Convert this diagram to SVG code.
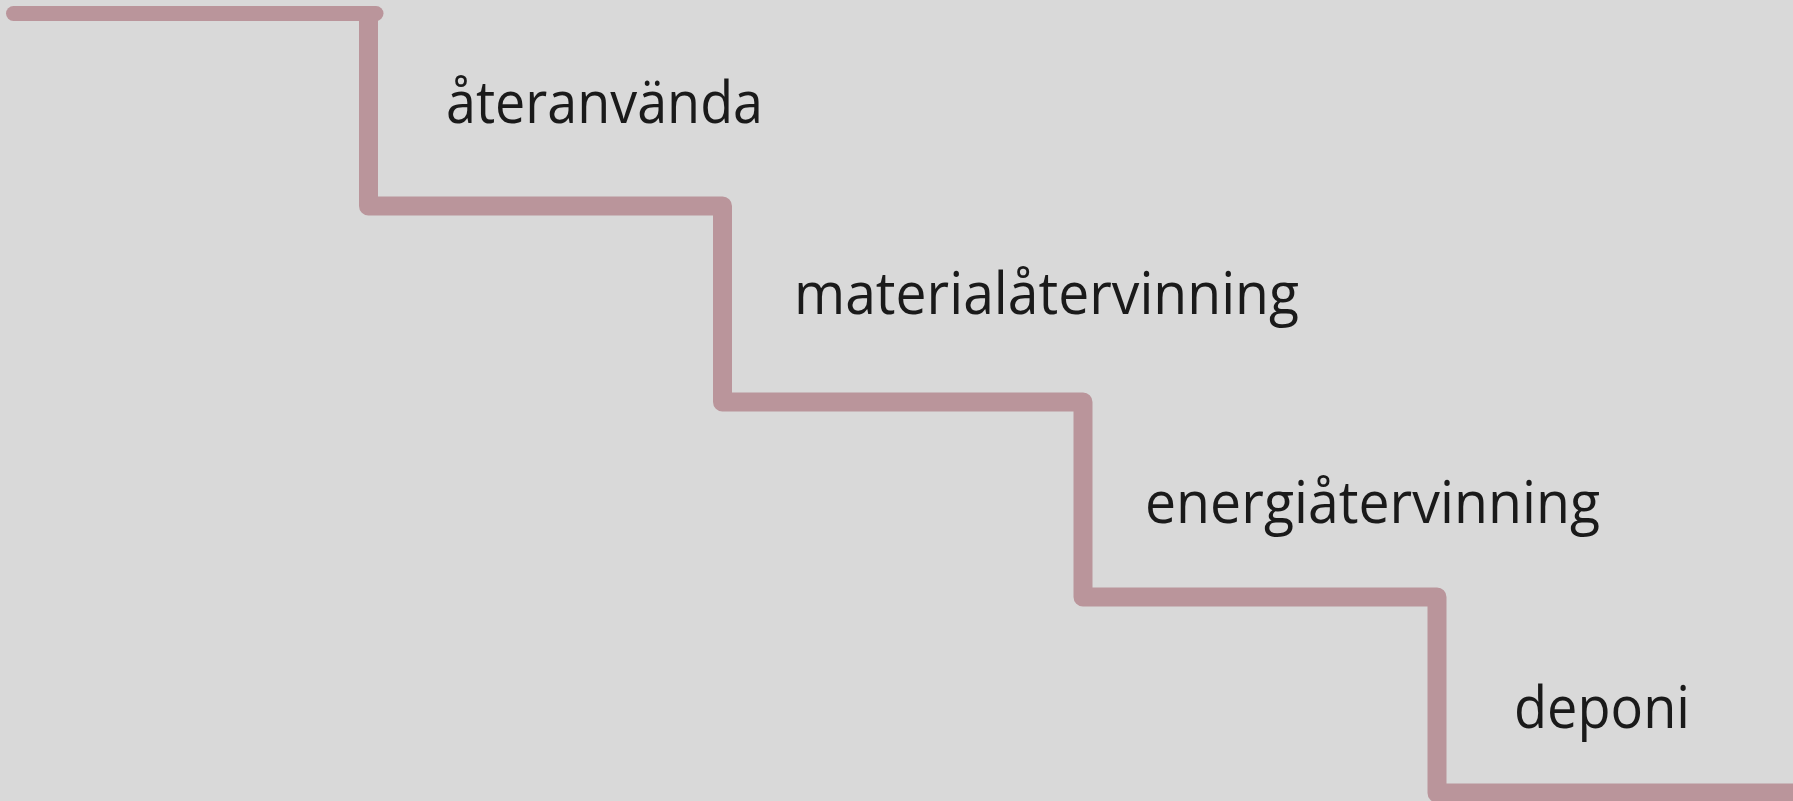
<svg xmlns="http://www.w3.org/2000/svg" width="1793" height="801" viewBox="0 0 1793 801">
<style>
.step{fill:none;stroke:#BA959B;stroke-linejoin:round}
.lbl{font-family:"Open Sans","Noto Sans",sans-serif;font-size:58px;fill:#1a1a1a}
</style>
<rect x="0" y="0" width="1793" height="801" fill="#D9D9D9"/>
<g id="connectors">
<line class="step" x1="13.5" y1="13.5" x2="376" y2="13.5" stroke-width="15" stroke-linecap="round"/>
<path class="step" stroke-width="19" d="M368.5,13.5 L368.5,206 L722.5,206 L722.5,402 L1083,402 L1083,597 L1437,597 L1437,793 L1800,793"/>
</g>
<g id="n1"><text class="lbl" x="446" y="122.7" textLength="317" lengthAdjust="spacingAndGlyphs">återanvända</text></g>
<g id="n2"><text class="lbl" x="794" y="313.5" textLength="505" lengthAdjust="spacingAndGlyphs">materialåtervinning</text></g>
<g id="n3"><text class="lbl" x="1145" y="523.3" textLength="455" lengthAdjust="spacingAndGlyphs">energiåtervinning</text></g>
<g id="n4"><text class="lbl" x="1514" y="728.3" textLength="176" lengthAdjust="spacingAndGlyphs">deponi</text></g>
</svg>
